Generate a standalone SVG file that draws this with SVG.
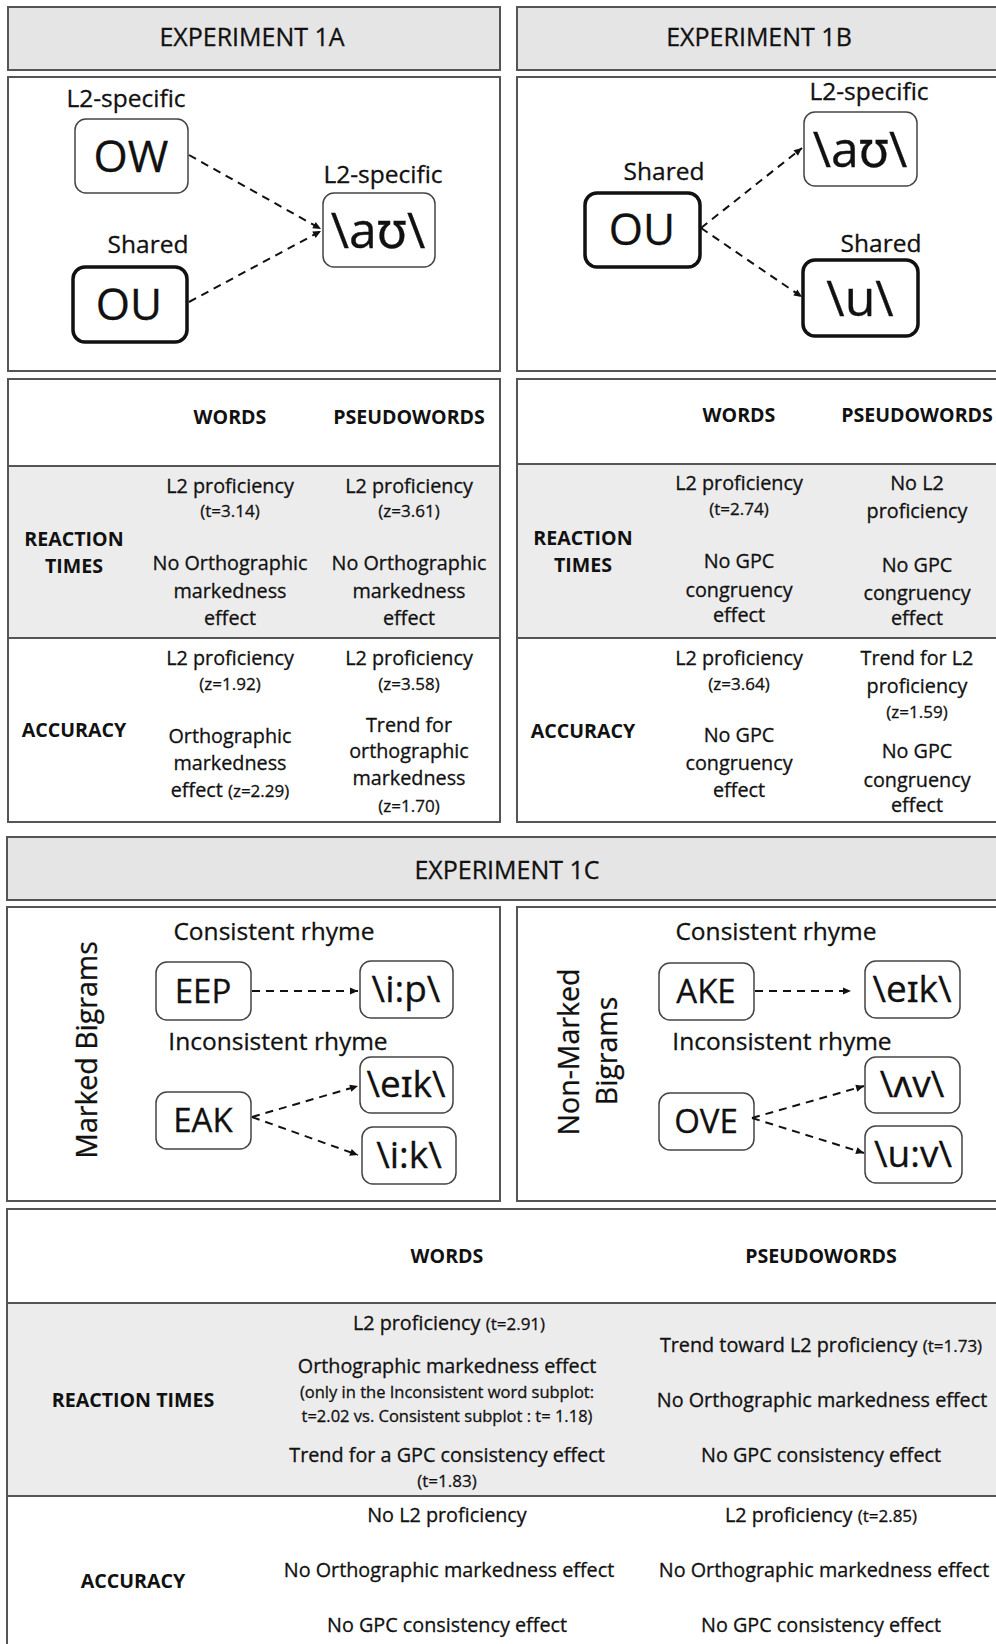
<svg xmlns="http://www.w3.org/2000/svg" width="996" height="1644" viewBox="0 0 996 1644">
<style>
text { font-family: "Open Sans", "Noto Sans", "DejaVu Sans", sans-serif; fill: #111; stroke: #111; stroke-width: 0.3; text-anchor: middle; }
.hdr { fill: #e5e5e5; stroke: #555; stroke-width: 2; }
.panel { fill: #fff; stroke: #555; stroke-width: 2; }
.grayrow { fill: #ececec; stroke: none; }
.rule { stroke: #555; stroke-width: 2; fill: none; }
.thin { fill: #fff; stroke: #444; stroke-width: 1.5; }
.thick { fill: #fff; stroke: #111; stroke-width: 3.5; }
.ttl { font-size: 25px; }
.lbl { font-size: 24.5px; }
.big { font-size: 44px; }
.ipa { font-size: 50px; }
.mid { font-size: 33px; }
.ipa2 { font-size: 37px; }
.side { font-size: 28.5px; }
.b { font-size: 19.6px; font-weight: bold; stroke-width: 0; }
.t { font-size: 19.8px; }
.s { font-size: 17px; }
.s2 { font-size: 16.5px; }
.conn { stroke: #111; stroke-width: 2; stroke-dasharray: 8 6; fill: none; marker-end: url(#arr); }
</style>
<defs>
<marker id="arr" viewBox="0 0 10 10" refX="10" refY="5" markerWidth="9" markerHeight="8" markerUnits="userSpaceOnUse" orient="auto">
<path d="M0,0.5 L10,5 L0,9.5 z" fill="#111"/>
</marker>
</defs>
<rect width="996" height="1644" fill="#fff"/>

<!-- Headers and panels -->
<g id="header-1a"><rect class="hdr" x="8" y="7" width="492" height="63"/><text class="ttl" x="252" y="46">EXPERIMENT 1A</text></g>
<g id="header-1b"><rect class="hdr" x="517" y="7" width="490" height="63"/><text class="ttl" x="759" y="46">EXPERIMENT 1B</text></g>
<rect class="panel" x="8" y="77" width="492" height="294"/>
<rect class="panel" x="517" y="77" width="490" height="294"/>

<!-- Experiment 1A diagram -->
<g id="n1a-ow"><text class="lbl" x="126" y="107">L2-specific</text><rect class="thin" x="75" y="119" width="113" height="74" rx="11"/><text class="big" x="131" y="172">OW</text></g>
<g id="n1a-ou"><text class="lbl" x="148" y="253">Shared</text><rect class="thick" x="73" y="267" width="114" height="75" rx="12"/><text class="big" x="129" y="320">OU</text></g>
<g id="n1a-au"><text class="lbl" x="383" y="183">L2-specific</text><rect class="thin" x="323" y="193" width="112" height="74" rx="11"/><text class="ipa" x="378" y="248">\aʊ\</text></g>

<!-- Experiment 1B diagram -->
<g id="n1b-ou"><text class="lbl" x="664" y="180">Shared</text><rect class="thick" x="585" y="193" width="115" height="74" rx="12"/><text class="big" x="642" y="245">OU</text></g>
<g id="n1b-au"><text class="lbl" x="869" y="100">L2-specific</text><rect class="thin" x="804" y="112" width="113" height="74" rx="11"/><text class="ipa" x="860" y="167">\aʊ\</text></g>
<g id="n1b-u"><text class="lbl" x="881" y="252">Shared</text><rect class="thick" x="803" y="260" width="115" height="76" rx="12"/><text class="ipa" x="860" y="316">\u\</text></g>

<!-- Tables 1A / 1B -->
<g id="table-1a">
<rect class="panel" x="8" y="379" width="492" height="443"/>
<rect class="grayrow" x="9" y="466" width="490" height="172"/>
<line class="rule" x1="8" y1="466" x2="500" y2="466"/>
<line class="rule" x1="8" y1="638" x2="500" y2="638"/>
<text class="b" x="230" y="424">WORDS</text>
<text class="b" x="409" y="424">PSEUDOWORDS</text>
<text class="b" x="74" y="546">REACTION</text>
<text class="b" x="74" y="573">TIMES</text>
<text class="t" x="230" y="493">L2 proficiency</text>
<text class="s" x="230" y="517">(t=3.14)</text>
<text class="t" x="230" y="570">No Orthographic</text>
<text class="t" x="230" y="598">markedness</text>
<text class="t" x="230" y="625">effect</text>
<text class="t" x="409" y="493">L2 proficiency</text>
<text class="s" x="409" y="517">(z=3.61)</text>
<text class="t" x="409" y="570">No Orthographic</text>
<text class="t" x="409" y="598">markedness</text>
<text class="t" x="409" y="625">effect</text>
<text class="b" x="74" y="737">ACCURACY</text>
<text class="t" x="230" y="665">L2 proficiency</text>
<text class="s" x="230" y="690">(z=1.92)</text>
<text class="t" x="230" y="743">Orthographic</text>
<text class="t" x="230" y="770">markedness</text>
<text class="t" x="230" y="797">effect <tspan class="s">(z=2.29)</tspan></text>
<text class="t" x="409" y="665">L2 proficiency</text>
<text class="s" x="409" y="690">(z=3.58)</text>
<text class="t" x="409" y="732">Trend for</text>
<text class="t" x="409" y="758">orthographic</text>
<text class="t" x="409" y="785">markedness</text>
<text class="s" x="409" y="812">(z=1.70)</text>
</g>

<g id="table-1b">
<rect class="panel" x="517" y="379" width="490" height="443"/>
<rect class="grayrow" x="518" y="464" width="488" height="174"/>
<line class="rule" x1="517" y1="464" x2="1000" y2="464"/>
<line class="rule" x1="517" y1="638" x2="1000" y2="638"/>
<text class="b" x="739" y="422">WORDS</text>
<text class="b" x="917" y="422">PSEUDOWORDS</text>
<text class="b" x="583" y="545">REACTION</text>
<text class="b" x="583" y="572">TIMES</text>
<text class="t" x="739" y="490">L2 proficiency</text>
<text class="s" x="739" y="515">(t=2.74)</text>
<text class="t" x="739" y="568">No GPC</text>
<text class="t" x="739" y="597">congruency</text>
<text class="t" x="739" y="622">effect</text>
<text class="t" x="917" y="490">No L2</text>
<text class="t" x="917" y="518">proficiency</text>
<text class="t" x="917" y="572">No GPC</text>
<text class="t" x="917" y="600">congruency</text>
<text class="t" x="917" y="625">effect</text>
<text class="b" x="583" y="738">ACCURACY</text>
<text class="t" x="739" y="665">L2 proficiency</text>
<text class="s" x="739" y="690">(z=3.64)</text>
<text class="t" x="739" y="742">No GPC</text>
<text class="t" x="739" y="770">congruency</text>
<text class="t" x="739" y="797">effect</text>
<text class="t" x="917" y="665">Trend for L2</text>
<text class="t" x="917" y="693">proficiency</text>
<text class="s" x="917" y="718">(z=1.59)</text>
<text class="t" x="917" y="758">No GPC</text>
<text class="t" x="917" y="787">congruency</text>
<text class="t" x="917" y="812">effect</text>
</g>

<!-- Experiment 1C -->
<g id="header-1c"><rect class="hdr" x="7" y="837" width="1000" height="63"/><text class="ttl" x="507" y="879">EXPERIMENT 1C</text></g>
<rect class="panel" x="7" y="907" width="493" height="294"/>
<rect class="panel" x="517" y="907" width="490" height="294"/>

<g id="marked-label"><text class="side" transform="translate(97,1050) rotate(-90)" x="0" y="0">Marked Bigrams</text></g>
<text class="lbl" x="274" y="940">Consistent rhyme</text>
<text class="lbl" x="278" y="1050">Inconsistent rhyme</text>
<g id="n1c-eep"><rect class="thin" x="156" y="962" width="95" height="58" rx="11"/><text class="mid" x="203" y="1003">EEP</text></g>
<g id="n1c-iip"><rect class="thin" x="360" y="961" width="93" height="57" rx="11"/><text class="ipa2" x="406" y="1002">\i:p\</text></g>
<g id="n1c-eak"><rect class="thin" x="156" y="1092" width="95" height="57" rx="11"/><text class="mid" x="203" y="1132">EAK</text></g>
<g id="n1c-eik"><rect class="thin" x="360" y="1057" width="93" height="56" rx="11"/><text class="ipa2" x="406" y="1097">\eɪk\</text></g>
<g id="n1c-iik"><rect class="thin" x="362" y="1127" width="94" height="57" rx="11"/><text class="ipa2" x="409" y="1168">\i:k\</text></g>

<g id="nonmarked-label"><text class="side" transform="translate(579,1052) rotate(-90)" x="0" y="0">Non-Marked</text><text class="side" transform="translate(617,1051) rotate(-90)" x="0" y="0">Bigrams</text></g>
<text class="lbl" x="776" y="940">Consistent rhyme</text>
<text class="lbl" x="782" y="1050">Inconsistent rhyme</text>
<g id="n1c-ake"><rect class="thin" x="659" y="963" width="95" height="57" rx="11"/><text class="mid" x="706" y="1003">AKE</text></g>
<g id="n1c-eik2"><rect class="thin" x="865" y="961" width="95" height="57" rx="11"/><text class="ipa2" x="912" y="1002">\eɪk\</text></g>
<g id="n1c-ove"><rect class="thin" x="659" y="1093" width="95" height="57" rx="11"/><text class="mid" x="706" y="1133">OVE</text></g>
<g id="n1c-av"><rect class="thin" x="865" y="1057" width="95" height="56" rx="11"/><text class="ipa2" x="912" y="1097">\ʌv\</text></g>
<g id="n1c-uuv"><rect class="thin" x="865" y="1126" width="97" height="57" rx="11"/><text class="ipa2" x="913" y="1167">\u:v\</text></g>

<!-- Connectors -->
<g id="connectors">
<line class="conn" x1="189" y1="155" x2="321" y2="229"/>
<line class="conn" x1="189" y1="302" x2="321" y2="231"/>
<line class="conn" x1="701" y1="228" x2="802" y2="148"/>
<line class="conn" x1="701" y1="228" x2="802" y2="297"/>
<line class="conn" x1="252" y1="991" x2="358" y2="991"/>
<line class="conn" x1="252" y1="1117" x2="358" y2="1086"/>
<line class="conn" x1="252" y1="1117" x2="358" y2="1155"/>
<line class="conn" x1="755" y1="991" x2="851" y2="991"/>
<line class="conn" x1="752" y1="1118" x2="864" y2="1086"/>
<line class="conn" x1="752" y1="1118" x2="864" y2="1153"/>
</g>

<!-- Table 1C -->
<g id="table-1c">
<rect class="panel" x="7" y="1209" width="1000" height="460"/>
<rect class="grayrow" x="8" y="1303" width="998" height="193"/>
<line class="rule" x1="7" y1="1303" x2="1000" y2="1303"/>
<line class="rule" x1="7" y1="1496" x2="1000" y2="1496"/>
<text class="b" x="447" y="1263">WORDS</text>
<text class="b" x="821" y="1263">PSEUDOWORDS</text>
<text class="b" x="133" y="1407">REACTION TIMES</text>
<text class="b" x="133" y="1588">ACCURACY</text>
<text class="t" x="449" y="1330">L2 proficiency <tspan class="s">(t=2.91)</tspan></text>
<text class="t" x="447" y="1373">Orthographic markedness effect</text>
<text class="s2" x="447" y="1398">(only in the Inconsistent word subplot:</text>
<text class="s2" x="447" y="1422">t=2.02 vs. Consistent subplot : t= 1.18)</text>
<text class="t" x="447" y="1462">Trend for a GPC consistency effect</text>
<text class="s" x="447" y="1487">(t=1.83)</text>
<text class="t" x="447" y="1522">No L2 proficiency</text>
<text class="t" x="449" y="1577">No Orthographic markedness effect</text>
<text class="t" x="447" y="1632">No GPC consistency effect</text>
<text class="t" x="821" y="1352">Trend toward L2 proficiency <tspan class="s">(t=1.73)</tspan></text>
<text class="t" x="822" y="1407">No Orthographic markedness effect</text>
<text class="t" x="821" y="1462">No GPC consistency effect</text>
<text class="t" x="821" y="1522">L2 proficiency <tspan class="s">(t=2.85)</tspan></text>
<text class="t" x="824" y="1577">No Orthographic markedness effect</text>
<text class="t" x="821" y="1632">No GPC consistency effect</text>
</g>
</svg>
